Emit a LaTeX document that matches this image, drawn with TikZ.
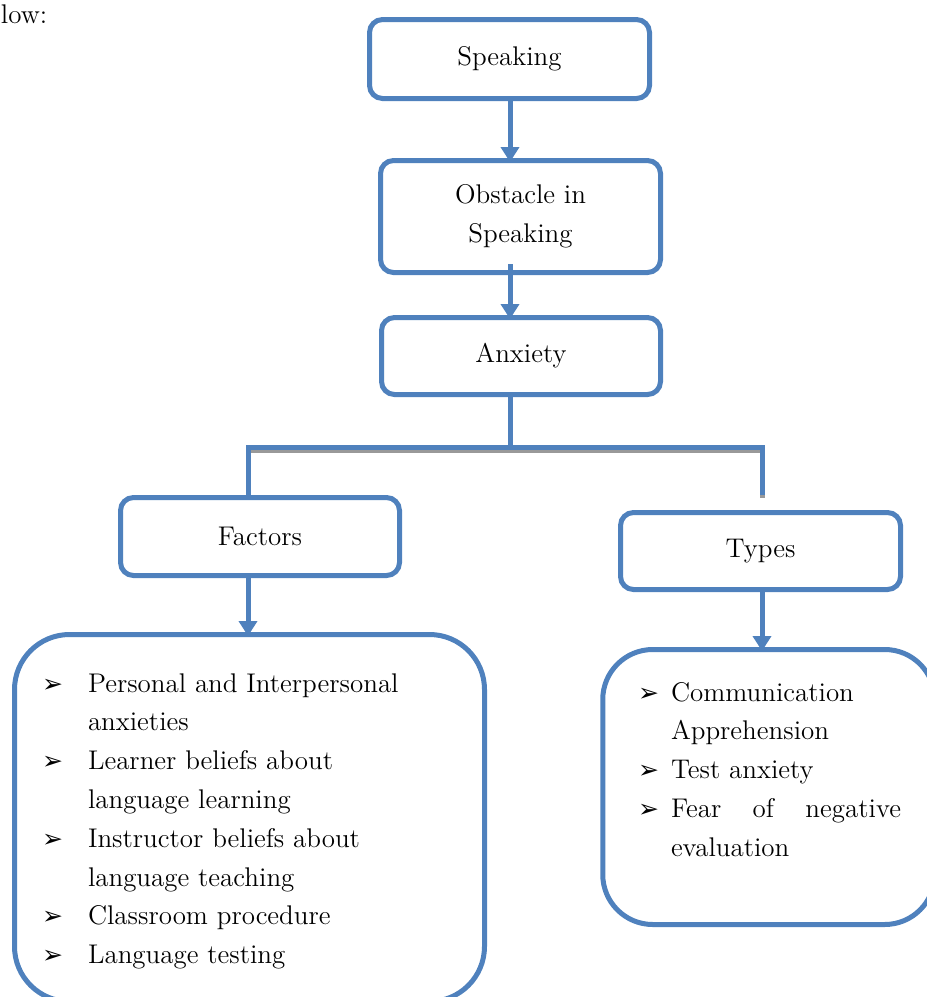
\documentclass[tikz,border=0pt]{standalone}
\usepackage{fontspec}
\usetikzlibrary{arrows.meta}
\newfontfamily\dingfont{DejaVu Sans}
\newlength{\du}
\setlength{\du}{0.5pt}
\newcommand{\bodyfont}{\fontsize{13.5}{19.4}\selectfont}
\newcommand{\bul}{{\dingfont\fontsize{12.5}{12.5}\selectfont ➢}}

\begin{document}
\begin{tikzpicture}[yscale=-1,
  smallbox/.style={draw=boxblue, line width=5\du, rounded corners=13\du, fill=white,
    align=center, inner sep=0pt, font=\bodyfont},
  bigbox/.style={draw=boxblue, line width=5\du, fill=white, inner sep=0pt},
  listtext/.style={inner sep=0pt, outer sep=0pt, font=\bodyfont},
  link/.style={draw=boxblue, line width=5\du},
  arr/.style={link, -{Triangle[width=9pt,length=7.5pt]}, shorten >=-4\du},
  shadowline/.style={link, draw=black!40, transform canvas={yshift=-3\du}}]
\definecolor{boxblue}{RGB}{79,129,189}
\useasboundingbox (0,0) rectangle (927\du,997\du);
\clip (0,0) rectangle (927\du,997\du);
% setfont left to latex
\node[listtext, anchor=base west] (intro) at (1\du,23\du) {low:};
\node[smallbox, minimum width=280\du, minimum height=79\du] (speaking) at (509.5\du,59\du) {Speaking};
\node[smallbox, minimum width=280\du, minimum height=112\du] (obstacle) at (520.5\du,216.5\du) {Obstacle in\\Speaking};
\node[smallbox, minimum width=279\du, minimum height=77\du] (anxiety) at (521\du,356\du) {Anxiety};
\node[smallbox, minimum width=279\du, minimum height=78\du] (factors) at (260\du,536.5\du) {Factors};
\node[smallbox, minimum width=280\du, minimum height=77\du] (types) at (760.5\du,551\du) {Types};
\node[bigbox, rounded corners=55\du, minimum width=470\du, minimum height=367\du] (factorbox) at (249.5\du,818\du) {};
\node[bigbox, rounded corners=50\du, minimum width=332\du, minimum height=275\du] (typebox) at (768.75\du,787\du) {};
% lists
\node[listtext, anchor=base west] (factorlist) at (42\du,692\du) {%
\begin{tabular}[t]{@{}p{46\du}@{}l@{}}
\bul & Personal and Interpersonal\\
     & anxieties\\
\bul & Learner beliefs about\\
     & language learning\\
\bul & Instructor beliefs about\\
     & language teaching\\
\bul & Classroom procedure\\
\bul & Language testing
\end{tabular}};
\node[listtext, anchor=base west] (typelist) at (638\du,701\du) {%
\begin{tabular}[t]{@{}p{33\du}@{}l@{}}
\bul & Communication\\
     & Apprehension\\
\bul & Test anxiety\\
\bul & \makebox[230\du][s]{Fear of negative}\\
     & evaluation
\end{tabular}};
% connectors
\coordinate (stub) at (510\du,264\du);
\coordinate (trunk) at (510\du,447\du);
\coordinate (branchL) at (248\du,447\du);
\coordinate (branchR) at (762\du,447\du);
\coordinate (typesend) at (762\du,495\du);
\draw[arr] (speaking.south -| stub) -- (obstacle.north -| stub);
\draw[arr] (stub) -- (anxiety.north -| stub);
\draw[shadowline] (branchL) -- (branchR) -- (typesend);
\draw[link] (anxiety.south -| trunk) -- (trunk);
\draw[link] (factors.north -| branchL) -- (branchL) -- (branchR) -- (typesend);
\draw[arr] (factors.south -| branchL) -- (factorbox.north -| branchL);
\draw[arr] (types.south -| typesend) -- (typebox.north -| typesend);
\end{tikzpicture}
\end{document}
